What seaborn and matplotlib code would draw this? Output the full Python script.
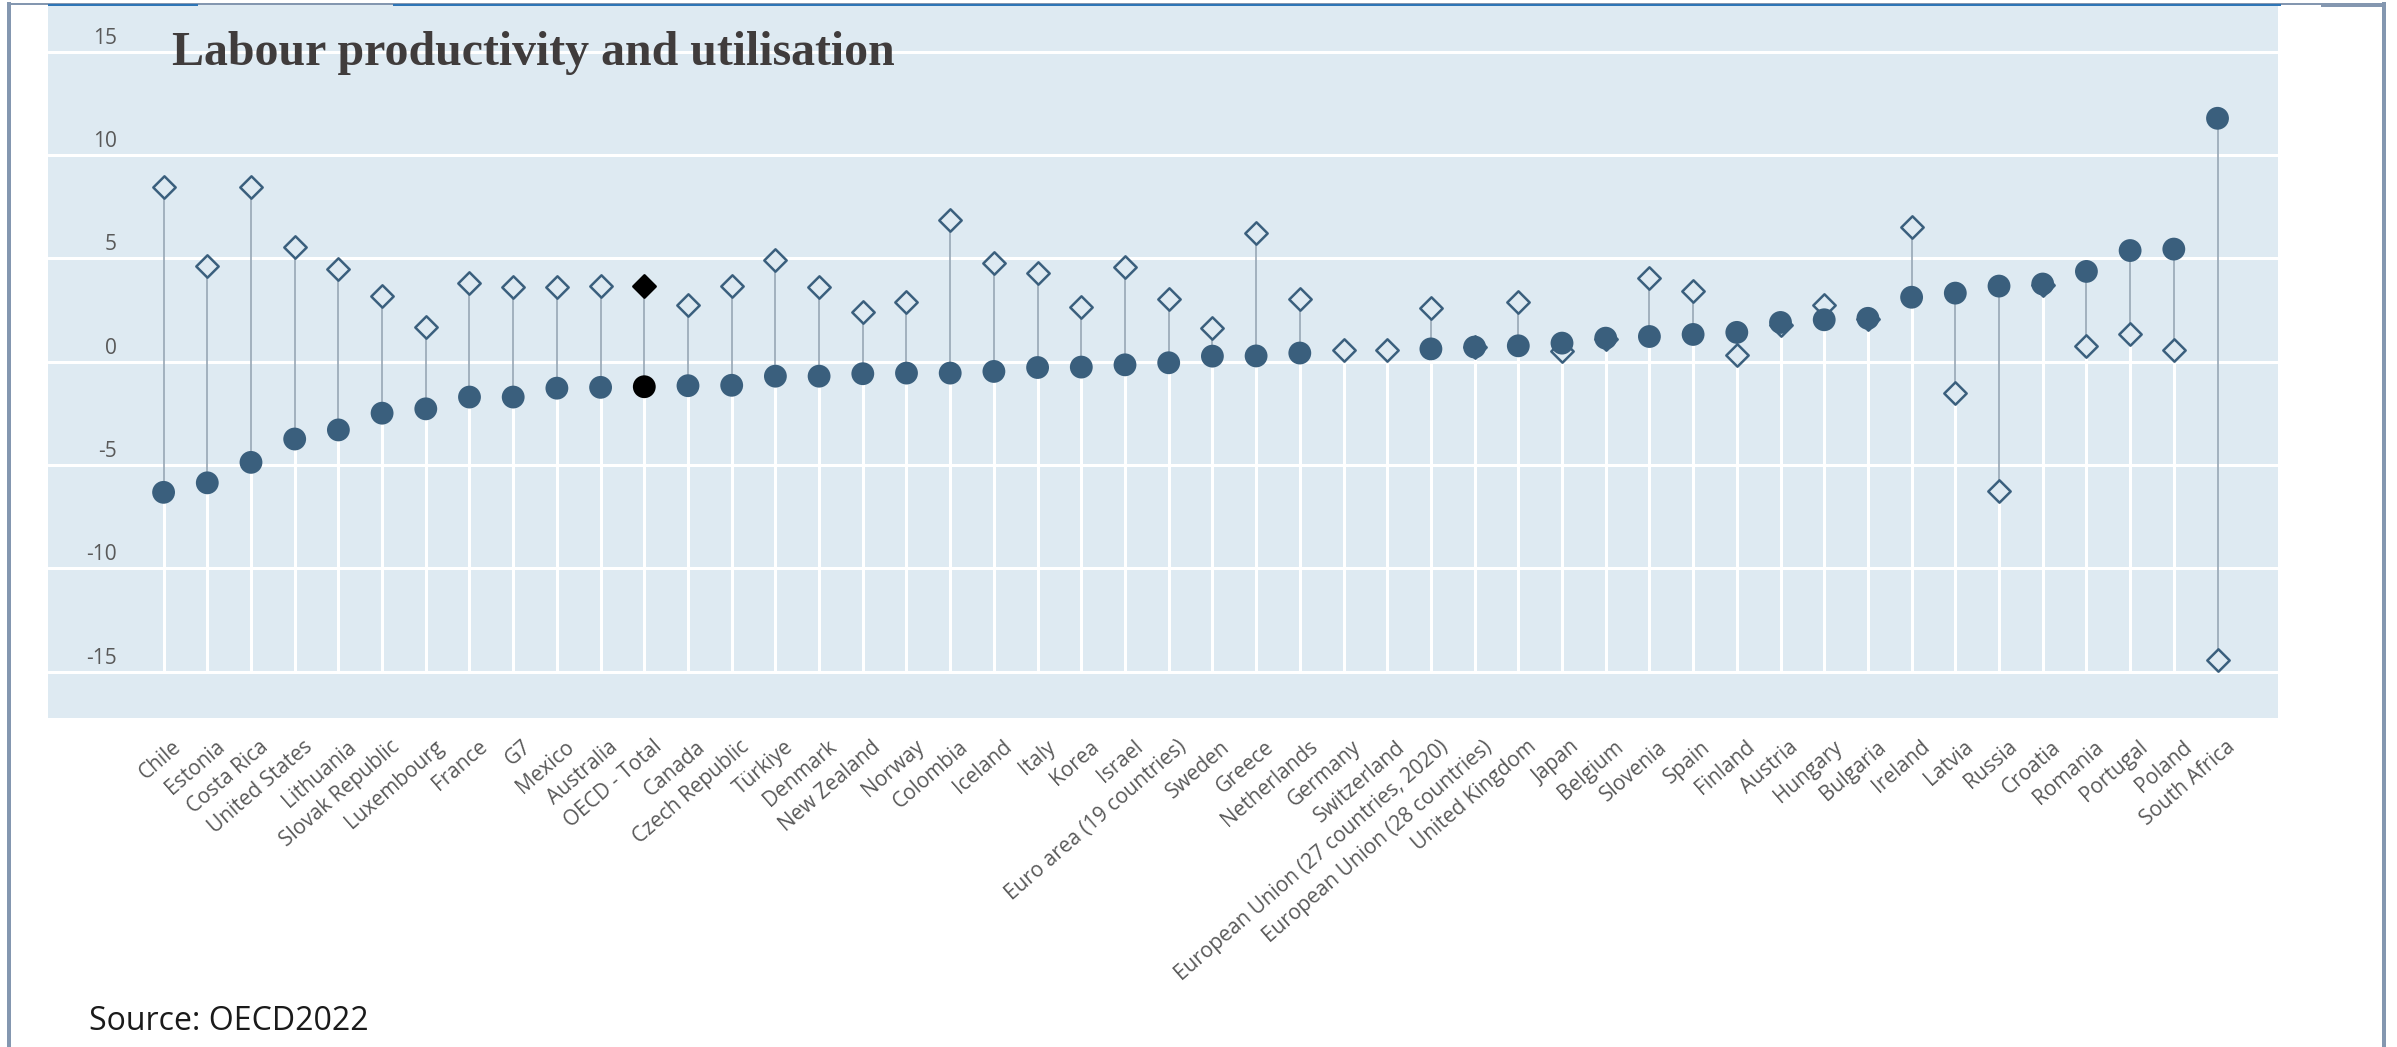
import numpy as np
import pandas as pd
import matplotlib
matplotlib.use("Agg")
import matplotlib.pyplot as plt
from matplotlib.lines import Line2D
from matplotlib.transforms import ScaledTranslation
import seaborn as sns

# ---- data -------------------------------------------------------------
countries = [
    "Chile", "Estonia", "Costa Rica", "United States", "Lithuania",
    "Slovak Republic", "Luxembourg", "France", "G7", "Mexico", "Australia",
    "OECD - Total", "Canada", "Czech Republic", "Türkiye", "Denmark",
    "New Zealand", "Norway", "Colombia", "Iceland", "Italy", "Korea",
    "Israel", "Euro area (19 countries)", "Sweden", "Greece", "Netherlands",
    "Germany", "Switzerland", "European Union (27 countries, 2020)",
    "European Union (28 countries)", "United Kingdom", "Japan", "Belgium",
    "Slovenia", "Spain", "Finland", "Austria", "Hungary", "Bulgaria",
    "Ireland", "Latvia", "Russia", "Croatia", "Romania", "Portugal",
    "Poland", "South Africa",
]

# filled circles
productivity = [
    -6.32, -5.86, -4.87, -3.74, -3.30, -2.49, -2.28, -1.71, -1.71, -1.28,
    -1.24, -1.21, -1.16, -1.14, -0.70, -0.70, -0.58, -0.55, -0.55, -0.47,
    -0.28, -0.26, -0.15, -0.05, 0.27, 0.28, 0.42, np.nan, np.nan, 0.62,
    0.71, 0.77, 0.90, 1.14, 1.22, 1.32, 1.42, 1.90, 2.03, 2.10,
    3.12, 3.32, 3.66, 3.76, 4.37, 5.38, 5.45, 11.78,
]

# hollow diamonds
utilisation = [
    8.47, 4.61, 8.47, 5.57, 4.48, 3.16, 1.67, 3.83, 3.61, 3.61,
    3.67, 3.67, 2.75, 3.67, 4.90, 3.61, 2.43, 2.87, 6.86, 4.77,
    4.29, 2.64, 4.56, 3.03, 1.63, 6.22, 3.03, 0.58, 0.58, 2.59,
    0.71, 2.87, 0.50, 1.12, 4.04, 3.43, 0.34, 1.80, 2.75, 2.08,
    6.54, -1.50, -6.27, 3.72, 0.75, 1.34, 0.55, -14.45,
]

y_ticks = [-15, -10, -5, 0, 5, 10, 15]
y_tick_labels = ["-15", "-10", "-5", "0", "5", "10", "15"]
highlight = "OECD - Total"
title = "Labour productivity and utilisation"
source = "Source: OECD2022"

# ---- styling ----------------------------------------------------------
BG = "#deeaf2"
MARK = "#3a5f7d"
STEM = "#98a7b5"
TEXT = "#595959"
FRAME = "#8497b0"
TOPLINE = "#2e75b6"

W_PX, H_PX, DPI = 2397, 1047, 100

sns.set_theme(style="white")
plt.rcParams["font.family"] = ["Open Sans", "DejaVu Sans"]

fig = plt.figure(figsize=(W_PX / DPI, H_PX / DPI), dpi=DPI)
fig.patch.set_facecolor("white")


def fx(px):
    return px / W_PX


def fy(py):
    return 1 - py / H_PX


ax_left, ax_right, ax_top, ax_bottom = 48, 2278, 4, 718
ax = fig.add_axes([fx(ax_left), fy(ax_bottom),
                   fx(ax_right - ax_left), (ax_bottom - ax_top) / H_PX])
ax.set_facecolor(BG)
for sp in ax.spines.values():
    sp.set_visible(False)

df = pd.DataFrame({"country": countries,
                   "productivity": productivity,
                   "utilisation": utilisation})
df["pos"] = np.arange(len(df))
lo = df[["productivity", "utilisation"]].min(axis=1)
hi = df[["productivity", "utilisation"]].max(axis=1)

members = df[df["country"] != highlight]
total = df[df["country"] == highlight]

# grid: horizontal lines across, vertical drop lines from the bottom line
for v in y_ticks:
    ax.axhline(v, color="white", lw=2.2, zorder=1)
ax.vlines(df["pos"], y_ticks[0], lo, color="white", lw=2.2, zorder=1)
# stems joining the two measures
ax.vlines(df["pos"], lo, hi, color=STEM, lw=1.2, zorder=2)

DIAMOND_S, DOT_S = 130, 270
sns.scatterplot(data=members, x="pos", y="utilisation", marker="D",
                s=DIAMOND_S, color=BG, edgecolor=MARK, linewidth=1.8,
                zorder=3, legend=False, ax=ax)
sns.scatterplot(data=members, x="pos", y="productivity", marker="o",
                s=DOT_S, color=MARK, edgecolor="none", linewidth=0,
                zorder=4, legend=False, ax=ax)
sns.scatterplot(data=total, x="pos", y="utilisation", marker="D",
                s=DIAMOND_S, color="black", edgecolor="black", linewidth=1.8,
                zorder=3, legend=False, ax=ax)
sns.scatterplot(data=total, x="pos", y="productivity", marker="o",
                s=DOT_S, color="black", edgecolor="none", linewidth=0,
                zorder=4, legend=False, ax=ax)

ax.set_xlim(-2.645, len(df) - 1 + 1.384)
ax.set_ylim(-17.24, 17.31)
ax.set_xlabel("")
ax.set_ylabel("")

# category labels
ax.set_xticks(df["pos"])
ax.set_xticklabels(countries, rotation=41, ha="right", va="center",
                   rotation_mode="anchor", fontsize=15, color=TEXT)
ax.tick_params(axis="x", length=0, pad=19)
for lab in ax.get_xticklabels():
    lab.set_transform(lab.get_transform() +
                      ScaledTranslation(15 / DPI, 0, fig.dpi_scale_trans))

# value labels sit inside the panel, just above each grid line
ax.set_yticks(y_ticks)
ax.set_yticklabels(y_tick_labels, fontsize=15, color=TEXT)
ax.tick_params(axis="y", length=0, pad=-(117 - ax_left) * 72 / DPI)
for lab in ax.get_yticklabels():
    lab.set_transform(lab.get_transform() +
                      ScaledTranslation(0, 16 / DPI, fig.dpi_scale_trans))

ax.grid(False)

# title and source
fig.text(fx(172), fy(65), title, fontsize=34.5, fontweight="bold",
         family=["Liberation Serif", "DejaVu Serif"], color="#403c3c",
         ha="left", va="baseline")
fig.text(fx(89), fy(1030), source, fontsize=23, color="#1a1a1a",
         ha="left", va="baseline")

# surrounding frame
def seg(x0, y0, x1, y1, color, lw_px):
    fig.add_artist(Line2D([fx(x0), fx(x1)], [fy(y0), fy(y1)],
                          transform=fig.transFigure, color=color,
                          lw=lw_px * 72 / DPI, solid_capstyle="butt"))

seg(9, 2, 9, H_PX, FRAME, 4)
seg(2384, 2, 2384, H_PX, FRAME, 4)
seg(7, 3.5, 2386, 3.5, FRAME, 2)
seg(2321, 5, 2386, 5, FRAME, 4)
seg(ax_left, 4.5, 198, 4.5, TOPLINE, 2)
seg(393, 4.5, 2281, 4.5, TOPLINE, 2)

fig.savefig("out.png", dpi=DPI, facecolor="white")
